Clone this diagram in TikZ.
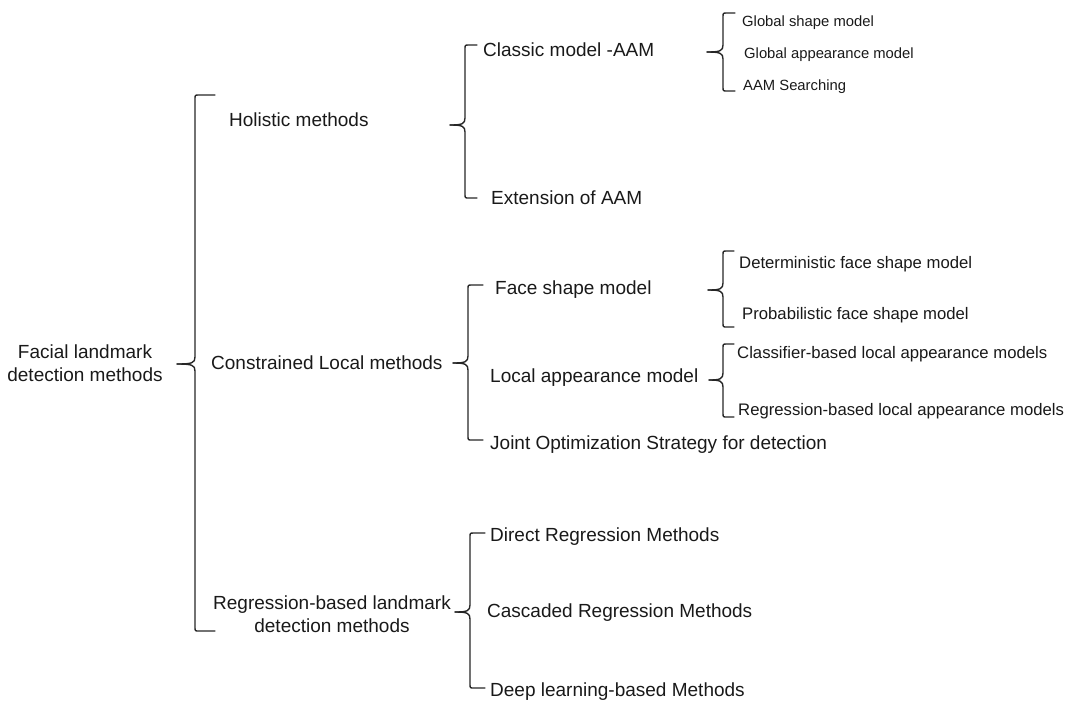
\documentclass[tikz,border=0pt]{standalone}
\usepackage{fontspec}
\setmainfont{Liberation Sans}
\begin{document}
\begin{tikzpicture}[x=1pt,y=-1pt,
  lab/.style={anchor=west,inner sep=0pt,text height=0.72em,text depth=0pt,
    yshift=-3pt,text=black!90,font=\fontsize{19}{22}\selectfont},
  labs/.style={lab,font=\fontsize{16.7}{20}\selectfont},
  labt/.style={lab,font=\fontsize{14.8}{18}\selectfont},
  twoline/.style={inner sep=0pt,align=center,text=black!90,
    font=\fontsize{19}{22.5}\selectfont},
  bracket/.style={line width=1.4pt,line join=round,line cap=round,draw=black!85}]
\useasboundingbox (0,0) rectangle (1067,702);

% curly bracket: #1 x of spine, #2 top, #3 bottom, #4 tip height, #5 tip x, #6 hook end x
\newcommand\curlybrace[6]{%
  \draw[bracket] (#6,#2) -- (#1+4,#2) .. controls (#1,#2) .. (#1,#2+4)
    -- (#1,#4-7) .. controls (#1,#4-1) and (#1-3,#4) .. (#5,#4);
  \draw[bracket] (#5,#4) .. controls (#1-3,#4) and (#1,#4+1) .. (#1,#4+7)
    -- (#1,#3-4) .. controls (#1,#3) .. (#1+4,#3) -- (#6,#3);
}

% level 0
\node[twoline] (root) at (85,363) {Facial landmark\\detection methods};

% level 1
\node[lab] (hol) at (229,120) {Holistic methods};
\node[lab] (con) at (211,363) {Constrained Local methods};
\node[twoline] (reg) at (332,614) {Regression-based landmark\\detection methods};

% level 2
\node[lab] (classic) at (483,50) {Classic model -AAM};
\node[lab] (ext) at (491,198) {Extension of AAM};
\node[lab] (face) at (495,288) {Face shape model};
\node[lab] (local) at (490,376) {Local appearance model};
\node[lab] (joint) at (490,443) {Joint Optimization Strategy for detection};
\node[lab] (direct) at (490,535) {Direct Regression Methods};
\node[lab] (casc) at (487,611) {Cascaded Regression Methods};
\node[lab] (deep) at (490,690) {Deep learning-based Methods};

% level 3
\node[labt] (gshape) at (742,20) {Global shape model};
\node[labt] (gapp) at (744,52) {Global appearance model};
\node[labt] (aams) at (743,84) {AAM Searching};
\node[labs] (det) at (739,262) {Deterministic face shape model};
\node[labs] (prob) at (742,313) {Probabilistic face shape model};
\node[labs] (clsb) at (737,352) {Classifier-based local appearance models};
\node[labs] (regb) at (738,409) {Regression-based local appearance models};

% brackets
\curlybrace{195}{95}{631}{364}{177}{215}
\curlybrace{465}{45}{198}{125}{450}{477}
\curlybrace{468}{285}{440}{363}{453}{483}
\curlybrace{470}{533}{688}{612}{455}{485}
\curlybrace{723}{13}{91}{52}{707}{735}
\curlybrace{723}{251}{327}{290}{708}{734}
\curlybrace{723}{344}{417}{380}{709}{734}
\end{tikzpicture}
\end{document}
